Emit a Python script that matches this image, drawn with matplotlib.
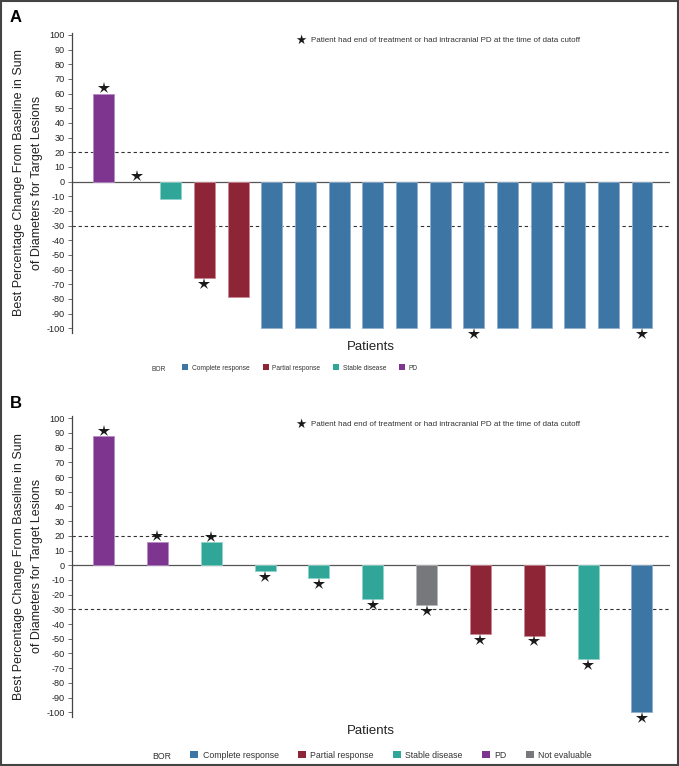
import matplotlib
matplotlib.use('Agg')
import matplotlib.pyplot as plt
from matplotlib.patches import Patch, Rectangle

plt.rcParams['font.family'] = ['Liberation Sans', 'DejaVu Sans']

# panel A data
a_values = [60, 0, -12, -66, -79, -100, -100, -100, -100, -100, -100,
            -100, -100, -100, -100, -100, -100]
a_bor = ['PD', 'PD', 'Stable disease', 'Partial response', 'Partial response',
         'Complete response', 'Complete response', 'Complete response',
         'Complete response', 'Complete response', 'Complete response',
         'Complete response', 'Complete response', 'Complete response',
         'Complete response', 'Complete response', 'Complete response']
a_star = [1, 1, 0, 1, 0, 0, 0, 0, 0, 0, 0, 1, 0, 0, 0, 0, 1]
a_legend = ['Complete response', 'Partial response', 'Stable disease', 'PD']

# panel B data
b_values = [88, 16, 15.5, -4, -9, -23, -27, -47, -48, -64, -100]
b_bor = ['PD', 'PD', 'Stable disease', 'Stable disease', 'Stable disease',
         'Stable disease', 'Not evaluable', 'Partial response',
         'Partial response', 'Stable disease', 'Complete response']
b_star = [1, 1, 1, 1, 1, 1, 1, 1, 1, 1, 1]
b_legend = ['Complete response', 'Partial response', 'Stable disease', 'PD',
            'Not evaluable']

colors = {'Complete response': '#3D75A4', 'Partial response': '#8E2537',
          'Stable disease': '#2FA698', 'PD': '#7D3590',
          'Not evaluable': '#77787C'}
edges = {'Complete response': '#8DB0CF', 'Partial response': '#C98A95',
         'Stable disease': '#8ED2CA', 'PD': '#B58BC4',
         'Not evaluable': '#B5B6B8'}

yticks = list(range(-100, 101, 10))
note = 'Patient had end of treatment or had intracranial PD at the time of data cutoff'
ylab = 'Best Percentage Change From Baseline in Sum\nof Diameters for Target Lesions'

fig = plt.figure(figsize=(6.79, 7.66), dpi=100)


def panel(rect, values, bor, star, legend_items, width, xlim, leg_x, leg_y,
          leg_fs, colsp, bor_x, note_y, letter, letter_y):
    ax = fig.add_axes(rect)
    x = list(range(len(values)))
    ax.bar(x, values, width=width, color=[colors[b] for b in bor],
           edgecolor=[edges[b] for b in bor],
           linewidth=[0.6 if v != 0 else 0 for v in values], zorder=3)
    for xi, v, s in zip(x, values, star):
        if s:
            yy = v + 3.6 if v >= 0 else v - 3.8
            ax.plot(xi, yy, marker='*', color='#1a1a1a', markersize=9,
                    markeredgewidth=0, zorder=4, clip_on=False)
    ax.axhline(0, color='#555555', lw=0.9, zorder=2)
    ax.axhline(20, color='#333333', lw=0.8, ls=(0, (3, 2.5)), zorder=2)
    ax.axhline(-30, color='#333333', lw=0.8, ls=(0, (3, 2.5)), zorder=2)
    ax.set_xlim(*xlim)
    ax.set_ylim(-103, 101.5)
    ax.set_yticks(yticks)
    ax.set_yticklabels([str(t) for t in yticks], fontsize=6.6, color='#222222')
    ax.tick_params(axis='y', length=3, width=0.6, color='#555555', pad=2)
    ax.set_xticks([])
    for sp in ['top', 'right', 'bottom']:
        ax.spines[sp].set_visible(False)
    ax.spines['left'].set_color('#444444')
    ax.spines['left'].set_linewidth(0.9)
    ax.set_xlabel('Patients', fontsize=9.5, color='#222222', labelpad=6)
    ax.set_ylabel(ylab, fontsize=9, color='#222222', linespacing=1.65,
                  labelpad=3)
    # star note
    fig.text(301 / 679, 1 - note_y / 766, '\u2605', fontsize=9,
             family=['DejaVu Sans'], ha='center', va='center', color='#1a1a1a')
    fig.text(311 / 679, 1 - note_y / 766, note, fontsize=5.8, ha='left',
             va='center', color='#333333')
    # BOR legend
    handles = [Patch(facecolor=colors[k], edgecolor='none', label=k)
               for k in legend_items]
    fig.legend(handles=handles, loc='center', bbox_to_anchor=(leg_x, leg_y),
               ncol=len(handles), frameon=False, fontsize=leg_fs,
               handlelength=0.9, handleheight=0.9, handletextpad=0.5,
               columnspacing=colsp, labelcolor='#333333', borderpad=0,
               borderaxespad=0)
    fig.text(bor_x / 679, leg_y - 0.0015, 'BOR', fontsize=leg_fs,
             color='#333333', ha='left', va='center')
    fig.text(10 / 679, 1 - letter_y / 766, letter, fontsize=12,
             fontweight='bold', ha='left', va='center')
    return ax


panel([72 / 679, 1 - 332.7 / 766, 598 / 679, 300 / 766], a_values, a_bor,
      a_star, a_legend, 0.62, (-0.936, 16.83), 300 / 679, 1 - 368 / 766, 4.8,
      2.0, 152, 40, 'A', 17)
panel([72 / 679, 1 - 716.7 / 766, 598 / 679, 300.7 / 766], b_values, b_bor,
      b_star, b_legend, 0.39, (-0.585, 10.52), 391 / 679, 1 - 755 / 766, 6.3,
      2.2, 152, 424, 'B', 403)

fig.add_artist(Rectangle((0.001, 0.001), 0.998, 0.998, transform=fig.transFigure,
                         fill=False, edgecolor='#444444', linewidth=1.5))

fig.savefig('out.png', dpi=100)
